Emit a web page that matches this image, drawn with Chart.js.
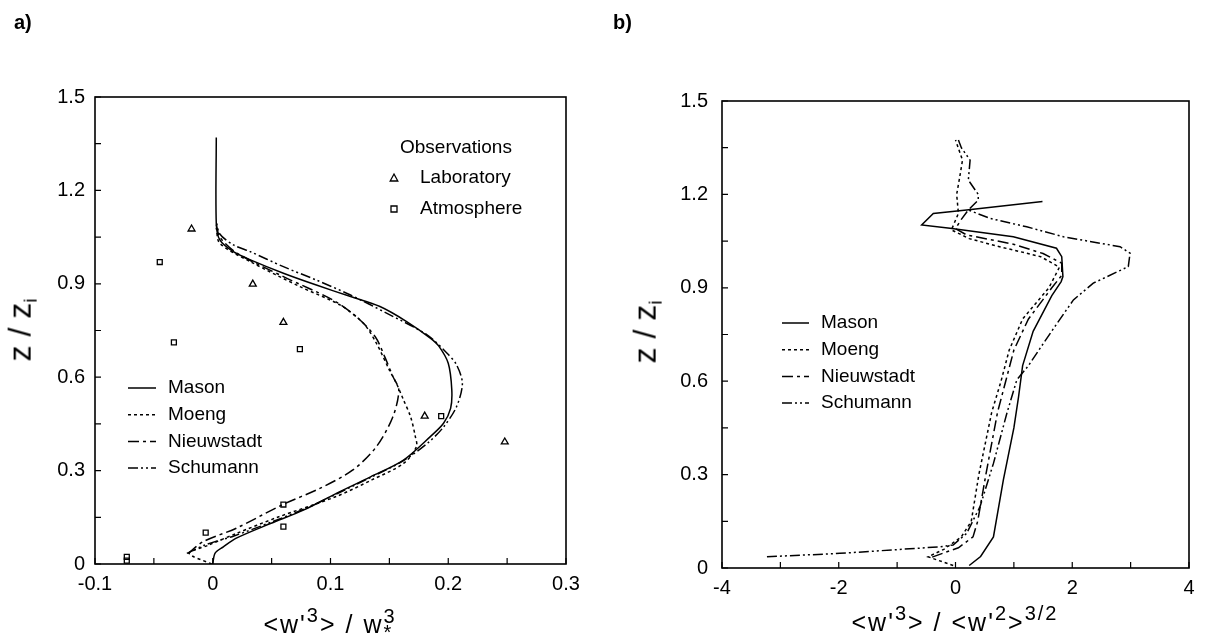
<!DOCTYPE html>
<html>
<head>
<meta charset="utf-8">
<title>Skewness profiles</title>
<script src="https://cdn.jsdelivr.net/npm/chart.js@4/dist/chart.umd.min.js"></script>
<style>
  body { margin: 0; background: #fff; width: 1210px; height: 641px; position: relative; overflow: hidden;
         font-family: "Liberation Sans", Arial, sans-serif; color: #000; }
  canvas { position: absolute; top: 0; }
  .panel-label { position: absolute; font-weight: bold; font-size: 20px; line-height: 20px; }
  .ytitle { position: absolute; font-size: 32px; line-height: 32px; white-space: nowrap;
            transform: translate(-50%, -50%) rotate(-90deg); }
  .ytitle sub { font-size: 0.6em; vertical-align: -0.3em; }
  .xtitle { position: absolute; font-size: 25px; line-height: 25px; letter-spacing: 2px; white-space: nowrap;
            transform: translateX(-50%); }
  .xtitle sup { font-size: 0.8em; line-height: 0; vertical-align: 0.55em; }
  .stack { display: inline-block; vertical-align: -0.3em; line-height: 0.8em; font-size: 0.8em; }
  .stack span { display: block; }
</style>
</head>
<body>
<canvas id="chartA" width="605" height="641" style="left:0"></canvas>
<canvas id="chartB" width="605" height="641" style="left:605px"></canvas>

<div class="panel-label" style="left:14px; top:12px">a)</div>
<div class="panel-label" style="left:613px; top:12px">b)</div>

<div class="ytitle" style="left:25px; top:330px">z / z<sub>i</sub></div>
<div class="ytitle" style="left:650px; top:332px">z / z<sub>i</sub></div>

<div class="xtitle" style="left:330px; top:608px">&lt;w'<sup>3</sup>&gt; / w<span class="stack"><span>3</span><span>*</span></span></div>
<div class="xtitle" style="left:955px; top:610px">&lt;w'<sup>3</sup>&gt; / &lt;w'<sup>2</sup>&gt;<sup>3/2</sup></div>

<script>
// ---- panel a) : <w'3>/w*^3 against z/zi ----
const masonAX = [0, 0.002, 0.009, 0.020, 0.049, 0.077, 0.105, 0.134, 0.162, 0.185, 0.196, 0.202, 0.203, 0.200, 0.192, 0.185, 0.165, 0.142, 0.117, 0.088, 0.060, 0.032, 0.0175, 0.006, 0.003, 0.003];
const masonAY = [0, 0.035, 0.055, 0.083, 0.13, 0.173, 0.227, 0.28, 0.334, 0.41, 0.452, 0.50, 0.56, 0.645, 0.70, 0.725, 0.778, 0.827, 0.859, 0.896, 0.934, 0.977, 1.003, 1.041, 1.094, 1.37];

const moengAX = [-0.001, -0.02, -0.004, 0.02, 0.055, 0.105, 0.135, 0.162, 0.173, 0.172, 0.168, 0.162, 0.156, 0.150, 0.139, 0.128, 0.108, 0.074, 0.032, 0.006, 0.003];
const moengAY = [0, 0.034, 0.06, 0.098, 0.15, 0.217, 0.27, 0.323, 0.377, 0.41, 0.473, 0.527, 0.58, 0.623, 0.709, 0.773, 0.832, 0.891, 0.971, 1.03, 1.08];

const nieuwAX = [-0.021, -0.008, 0.02, 0.059, 0.091, 0.119, 0.139, 0.153, 0.158, 0.153, 0.146, 0.138, 0.122, 0.102, 0.06, 0.02, 0.006, 0.003];
const nieuwAY = [0.034, 0.072, 0.115, 0.19, 0.243, 0.302, 0.377, 0.473, 0.559, 0.602, 0.666, 0.730, 0.794, 0.848, 0.923, 1.0, 1.05, 1.09];

const schumAX = [-0.022, -0.006, 0.018, 0.05, 0.08, 0.105, 0.134, 0.162, 0.183, 0.196, 0.207, 0.212, 0.207, 0.199, 0.182, 0.148, 0.117, 0.088, 0.06, 0.032, 0.0175, 0.006, 0.003];
const schumAY = [0.034, 0.062, 0.09, 0.135, 0.18, 0.225, 0.278, 0.332, 0.39, 0.44, 0.505, 0.58, 0.64, 0.677, 0.736, 0.805, 0.864, 0.912, 0.955, 1.003, 1.025, 1.06, 1.1];

const labX = [-0.018, 0.034, 0.060, 0.180, 0.248];
const labY = [1.076, 0.899, 0.776, 0.475, 0.392];
const atmX = [-0.045, -0.033, 0.074, 0.194, 0.060, 0.060, -0.006, -0.073, -0.073];
const atmY = [0.970, 0.712, 0.690, 0.475, 0.191, 0.120, 0.101, 0.023, 0.011];

// ---- panel b) : <w'3>/<w'2>^(3/2) against z/zi ----
const masonBX = [0.235, 0.43, 0.65, 0.82, 1.0, 1.08, 1.15, 1.33, 1.65, 1.81, 1.84, 1.82, 1.73, 0.99, -0.094, -0.58, -0.38, 0.19, 1.49];
const masonBY = [0.008, 0.037, 0.10, 0.283, 0.45, 0.55, 0.65, 0.76, 0.875, 0.92, 0.936, 1.0, 1.027, 1.064, 1.091, 1.102, 1.139, 1.15, 1.177];

const moengBX = [-0.04, -0.47, -0.2, 0.1, 0.27, 0.40, 0.62, 0.78, 0.92, 1.15, 1.6, 1.78, 1.46, 0.69, 0.235, -0.07, 0.05, 0.02, 0.07, 0.12, 0.0];
const moengBY = [0.008, 0.036, 0.06, 0.1, 0.15, 0.30, 0.5, 0.6, 0.7, 0.8, 0.9, 0.966, 1.0, 1.035, 1.058, 1.086, 1.139, 1.2, 1.253, 1.31, 1.375];

const nieuwBX = [-0.4, 0.05, 0.3, 0.38, 0.52, 0.72, 0.86, 1.0, 1.25, 1.65, 1.82, 1.82, 1.5, 0.99, 0.19, 0.0, 0.1, 0.2];
const nieuwBY = [0.035, 0.065, 0.1, 0.15, 0.3, 0.5, 0.6, 0.7, 0.8, 0.9, 0.94, 0.979, 1.01, 1.04, 1.07, 1.09, 1.12, 1.145];

const schumBX = [-3.23, -1.98, -0.27, -0.04, 0.19, 0.42, 0.65, 0.88, 1.05, 1.25, 1.5, 1.7, 2.02, 2.36, 2.96, 2.99, 2.82, 1.85, 1.22, 0.59, 0.22, 0.39, 0.39, 0.22, 0.25, 0.1, 0.05];
const schumBY = [0.036, 0.047, 0.068, 0.074, 0.111, 0.197, 0.336, 0.497, 0.604, 0.65, 0.72, 0.775, 0.861, 0.915, 0.968, 1.011, 1.032, 1.064, 1.096, 1.123, 1.15, 1.182, 1.2, 1.246, 1.31, 1.35, 1.375];

// ---- ticks ----
const yTickValues = [0, 0.3, 0.6, 0.9, 1.2, 1.5];
const yTickLabels = ['0', '0.3', '0.6', '0.9', '1.2', '1.5'];
const xTickValuesA = [-0.1, 0, 0.1, 0.2, 0.3];
const xTickLabelsA = ['-0.1', '0', '0.1', '0.2', '0.3'];
const xTickValuesB = [-4, -2, 0, 2, 4];
const xTickLabelsB = ['-4', '-2', '0', '2', '4'];

const seriesNames = ['Mason', 'Moeng', 'Nieuwstadt', 'Schumann'];
const obsNames = ['Laboratory', 'Atmosphere'];

const FONT = '"Liberation Sans", Arial, sans-serif';
const dashes = {
    Mason: [],
    Moeng: [3, 3],
    Nieuwstadt: [11, 4, 3, 4],
    Schumann: [10, 3, 2, 3, 2, 3]
};

function points(xs, ys) {
    return xs.map((v, i) => ({ x: v, y: ys[i] }));
}

function labelFor(values, labels) {
    return (v) => {
        const i = values.findIndex(t => Math.abs(t - v) < 1e-6);
        return i >= 0 ? labels[i] : '';
    };
}

function lineSet(name, xs, ys, tension) {
    return {
        label: name,
        data: points(xs, ys),
        showLine: true,
        borderColor: '#000',
        borderWidth: 1.5,
        borderDash: dashes[name],
        pointRadius: 0,
        tension: tension,
        fill: false
    };
}

/**
 * Box, inward ticks and the in-plot legends
 */
const frameAndLegend = {
    id: 'frameAndLegend',
    afterDatasetsDraw(chart, args, opts) {
        const { ctx, chartArea: a, scales: { x, y } } = chart;
        ctx.save();
        ctx.strokeStyle = '#000';
        ctx.setLineDash([]);
        ctx.lineWidth = 1.6;
        ctx.strokeRect(a.left, a.top, a.right - a.left, a.bottom - a.top);

        ctx.lineWidth = 1.2;
        ctx.beginPath();
        x.ticks.forEach(t => {
            const px = x.getPixelForValue(t.value);
            ctx.moveTo(px, a.bottom);
            ctx.lineTo(px, a.bottom - 6);
        });
        y.ticks.forEach(t => {
            const py = y.getPixelForValue(t.value);
            ctx.moveTo(a.left, py);
            ctx.lineTo(a.left + 6, py);
        });
        ctx.stroke();

        // line legend
        ctx.font = '19px ' + FONT;
        ctx.fillStyle = '#000';
        ctx.textBaseline = 'middle';
        const lines = chart.data.datasets.filter(d => d.showLine);
        lines.forEach((d, i) => {
            const ry = opts.rowY + i * opts.rowGap;
            ctx.lineWidth = 1.5;
            ctx.setLineDash(d.borderDash);
            ctx.beginPath();
            ctx.moveTo(opts.lineX, ry);
            ctx.lineTo(opts.lineX + opts.lineLen, ry);
            ctx.stroke();
            ctx.setLineDash([]);
            ctx.fillText(d.label, opts.textX, ry);
        });

        // observation legend
        if (opts.obs) {
            const o = opts.obs;
            ctx.fillText('Observations', o.titleX, o.titleY);
            const marks = chart.data.datasets.filter(d => !d.showLine);
            marks.forEach((d, i) => {
                const ry = o.rowY + i * o.rowGap;
                drawMark(ctx, d.pointStyle, o.markX, ry);
                ctx.fillText(d.label, o.textX, ry);
            });
        }
        ctx.restore();
    }
};

function drawMark(ctx, style, cx, cy) {
    ctx.save();
    ctx.setLineDash([]);
    ctx.lineWidth = 1.3;
    ctx.beginPath();
    if (style === 'triangle') {
        ctx.moveTo(cx, cy - 4);
        ctx.lineTo(cx + 3.8, cy + 3);
        ctx.lineTo(cx - 3.8, cy + 3);
        ctx.closePath();
    } else {
        ctx.rect(cx - 3, cy - 3, 6, 6);
    }
    ctx.stroke();
    ctx.restore();
}

function axisOptions(min, max, step, values, labels, fitKey, fitSize, pad) {
    return {
        type: 'linear',
        min: min,
        max: max,
        grid: { display: false, drawTicks: false },
        border: { display: false },
        ticks: {
            stepSize: step,
            autoSkip: false,
            maxRotation: 0,
            padding: pad,
            color: '#000',
            font: { family: FONT, size: 20 },
            callback: labelFor(values, labels)
        },
        afterFit(scale) { scale[fitKey] = fitSize; }
    };
}

function makeChart(id, datasets, xAxis, yAxis, padding, legendOpts) {
    return new Chart(document.getElementById(id), {
        type: 'scatter',
        data: { datasets: datasets },
        options: {
            responsive: false,
            animation: false,
            layout: { padding: padding },
            plugins: {
                legend: { display: false },
                tooltip: { enabled: false },
                frameAndLegend: legendOpts
            },
            scales: { x: xAxis, y: yAxis }
        },
        plugins: [frameAndLegend]
    });
}

const obsStyle = {
    showLine: false,
    borderColor: '#000',
    backgroundColor: 'rgba(0,0,0,0)',
    borderWidth: 1.3
};

makeChart('chartA',
    [
        lineSet(seriesNames[0], masonAX, masonAY, 0.3),
        lineSet(seriesNames[1], moengAX, moengAY, 0.3),
        lineSet(seriesNames[2], nieuwAX, nieuwAY, 0.3),
        lineSet(seriesNames[3], schumAX, schumAY, 0.3),
        { ...obsStyle, label: obsNames[0], data: points(labX, labY), pointStyle: 'triangle', pointRadius: 4 },
        { ...obsStyle, label: obsNames[1], data: points(atmX, atmY), pointStyle: 'rect', pointRadius: 3.5 }
    ],
    axisOptions(-0.1, 0.3, 0.05, xTickValuesA, xTickLabelsA, 'height', 77, 8),
    axisOptions(0, 1.5, 0.15, yTickValues, yTickLabels, 'width', 95, 10),
    { top: 97, right: 39, left: 0, bottom: 0 },
    {
        lineX: 128, lineLen: 28, textX: 168, rowY: 388, rowGap: 26.7,
        obs: { titleX: 400, titleY: 148, markX: 394, textX: 420, rowY: 178, rowGap: 31 }
    }
);

makeChart('chartB',
    [
        lineSet(seriesNames[0], masonBX, masonBY, 0),
        lineSet(seriesNames[1], moengBX, moengBY, 0),
        lineSet(seriesNames[2], nieuwBX, nieuwBY, 0),
        lineSet(seriesNames[3], schumBX, schumBY, 0)
    ],
    axisOptions(-4, 4, 1, xTickValuesB, xTickLabelsB, 'height', 73, 8),
    axisOptions(0, 1.5, 0.15, yTickValues, yTickLabels, 'width', 117, 14),
    { top: 101, right: 21, left: 0, bottom: 0 },
    { lineX: 177, lineLen: 27, textX: 216, rowY: 323, rowGap: 26.7 }
);
</script>
</body>
</html>
